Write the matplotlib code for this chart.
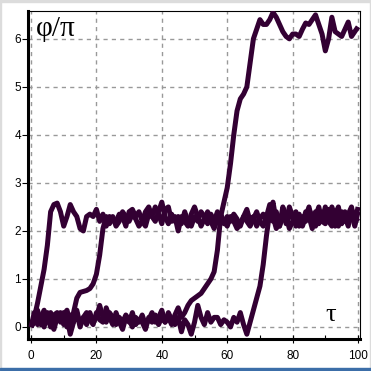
import matplotlib
matplotlib.use("Agg")
import matplotlib.pyplot as plt
from matplotlib.ticker import MultipleLocator
from matplotlib.patches import Rectangle

tau = list(range(0, 101))

curve_a = [0.0, 0.2, 0.5, 0.85, 1.2, 1.7, 2.4, 2.55, 2.58, 2.4,
           2.1, 2.3, 2.55, 2.4, 2.3, 2.05, 2.0, 2.3, 2.35, 2.3,
           2.45, 2.2, 2.35, 2.1, 2.3, 2.25, 2.2, 2.35, 2.3, 2.1,
           2.4, 2.45, 2.3, 2.4, 2.2, 2.1, 2.35, 2.3, 2.5, 2.35,
           2.15, 2.45, 2.5, 2.2, 2.3, 2.0, 2.3, 2.2, 2.1, 2.35,
           2.5, 2.3, 2.1, 2.25, 2.4, 2.2, 2.05, 2.25, 2.35, 2.2,
           2.1, 2.3, 2.2, 2.05, 2.15, 2.3, 2.2, 2.1, 2.25, 2.4,
           2.2, 2.1, 2.3, 2.55, 2.3, 2.05, 2.2, 2.4, 2.15, 2.3,
           2.35, 2.1, 2.25, 2.15, 2.4, 2.3, 2.05, 2.3, 2.5, 2.2,
           2.15, 2.45, 2.35, 2.1, 2.3, 2.25, 2.4, 2.2, 2.35, 2.1, 2.4]

curve_b = [0.0, 0.1, 0.3, 0.05, 0.3, 0.2, 0.0, 0.25, 0.3, 0.1,
           0.25, 0.35, 0.1, 0.3, 0.6, 0.72, 0.74, 0.76, 0.8, 0.9,
           1.1, 1.5, 2.05, 2.3, 2.15, 2.3, 2.1, 2.2, 2.4, 2.3,
           2.2, 2.35, 2.25, 2.1, 2.2, 2.4, 2.5, 2.3, 2.2, 2.4,
           2.6, 2.3, 2.15, 2.35, 2.2, 2.3, 2.15, 2.4, 2.2, 2.1,
           2.3, 2.2, 2.4, 2.3, 2.15, 2.35, 2.2, 2.4, 2.3, 2.15,
           2.3, 2.2, 2.35, 2.25, 2.1, 2.3, 2.45, 2.2, 2.3, 2.1,
           2.25, 2.35, 2.2, 2.4, 2.6, 2.2, 2.1, 2.5, 2.3, 2.05,
           2.2, 2.4, 2.1, 2.3, 2.2, 2.45, 2.3, 2.1, 2.35, 2.2,
           2.5, 2.2, 2.1, 2.35, 2.5, 2.15, 2.3, 2.1, 2.45, 2.3, 2.2]

curve_c = [0.0, 0.15, 0.35, 0.1, 0.0, 0.3, 0.1, -0.05, 0.2, 0.3,
           0.05, 0.2, -0.15, 0.1, 0.3, 0.0, 0.2, 0.05, 0.3, 0.1,
           0.2, 0.45, 0.2, 0.1, 0.3, 0.2, 0.05, 0.2, 0.1, 0.25,
           0.15, 0.0, 0.2, 0.1, 0.25, 0.05, 0.15, 0.3, 0.1, 0.2,
           0.35, 0.1, 0.2, 0.05, 0.25, 0.4, 0.2, 0.3, 0.45, 0.55,
           0.6, 0.65, 0.7, 0.8, 0.9, 1.0, 1.15, 1.6, 2.3, 2.6,
           2.9, 3.4, 4.0, 4.5, 4.75, 4.85, 5.0, 5.5, 6.0, 6.2,
           6.4, 6.3, 6.3, 6.4, 6.55, 6.45, 6.3, 6.15, 6.05, 6.0,
           6.1, 6.1, 6.05, 6.2, 6.33, 6.3, 6.4, 6.5, 6.3, 6.1,
           5.75, 6.0, 6.45, 6.15, 6.1, 6.05, 6.2, 6.35, 6.05, 6.15, 6.25]

curve_d = [0.0, 0.3, 0.05, 0.2, 0.35, 0.1, 0.3, 0.05, 0.25, 0.15,
           0.3, 0.0, 0.25, 0.1, 0.35, 0.05, 0.2, 0.3, 0.15, 0.05,
           0.3, 0.15, 0.1, 0.4, 0.2, 0.05, 0.3, 0.1, -0.05, 0.2,
           0.1, 0.3, 0.05, 0.15, 0.1, -0.05, 0.2, 0.1, 0.25, 0.05,
           0.2, 0.1, 0.3, 0.15, 0.05, 0.2, -0.1, 0.15, 0.05, -0.15,
           0.1, 0.45, 0.2, 0.05, 0.3, 0.1, 0.2, 0.2, 0.05, 0.15,
           0.1, 0.0, 0.2, 0.1, 0.3, 0.05, -0.15, 0.1, 0.35, 0.6,
           0.85, 1.3, 1.9, 2.4, 2.2, 2.4, 2.1, 2.3, 2.2, 2.5,
           2.3, 2.15, 2.35, 2.1, 2.3, 2.5, 2.2, 2.4, 2.15, 2.3,
           2.45, 2.2, 2.5, 2.3, 2.1, 2.4, 2.2, 2.35, 2.5, 2.15, 2.5]

x_ticks = [0, 20, 40, 60, 80, 100]
y_ticks = [0, 1, 2, 3, 4, 5, 6]

line_color = "#330033"

fig = plt.figure(figsize=(3.71, 3.71), dpi=100, facecolor="white")
# window frame
fig.patches.append(Rectangle((0, 0.994), 1, 0.006, transform=fig.transFigure,
                             color="#dcdcdc", zorder=0))
fig.patches.append(Rectangle((0, 0), 0.004, 1, transform=fig.transFigure,
                             color="#dcdcdc", zorder=0))
fig.patches.append(Rectangle((0.996, 0), 0.004, 1, transform=fig.transFigure,
                             color="#dcdcdc", zorder=0))
fig.patches.append(Rectangle((0, 0.003), 1, 0.005, transform=fig.transFigure,
                             color="#3c6ea8", zorder=0))

ax = fig.add_axes([28/371, 32/371, 332/371, 328/371])

for c in (curve_a, curve_b, curve_c, curve_d):
    ax.plot(tau, c, color=line_color, lw=3.6, solid_joinstyle="round",
            solid_capstyle="butt", zorder=3)

ax.set_xlim(-0.92, 100.6)
ax.set_ylim(-0.25, 6.58)
ax.set_xticks(x_ticks)
ax.set_yticks(y_ticks)
ax.xaxis.set_minor_locator(MultipleLocator(10))

ax.grid(True, which="major", color="#999999", linestyle=(0, (3, 3)), lw=1.0)

for s in ("left", "bottom"):
    ax.spines[s].set_linewidth(2.2)
for s in ("top", "right"):
    ax.spines[s].set_linewidth(0.8)

ax.tick_params(axis="y", which="major", direction="out", length=4, width=0.8,
               labelsize=8.5, pad=1)
ax.tick_params(axis="x", which="major", direction="inout", length=6, width=0.8,
               labelsize=8.5, pad=5)
ax.tick_params(axis="x", which="minor", direction="in", length=3, width=0.8)

for lbl in ax.get_xticklabels() + ax.get_yticklabels():
    lbl.set_family("Liberation Sans")

ax.text(1.5, 6.06, "φ/π", family="Liberation Serif", fontsize=21,
        ha="left", va="baseline", zorder=4)
ax.text(90.0, 0.12, "τ", family="Liberation Serif", fontsize=19,
        ha="left", va="baseline", zorder=4)

fig.savefig("out.png", dpi=100, facecolor="white")
